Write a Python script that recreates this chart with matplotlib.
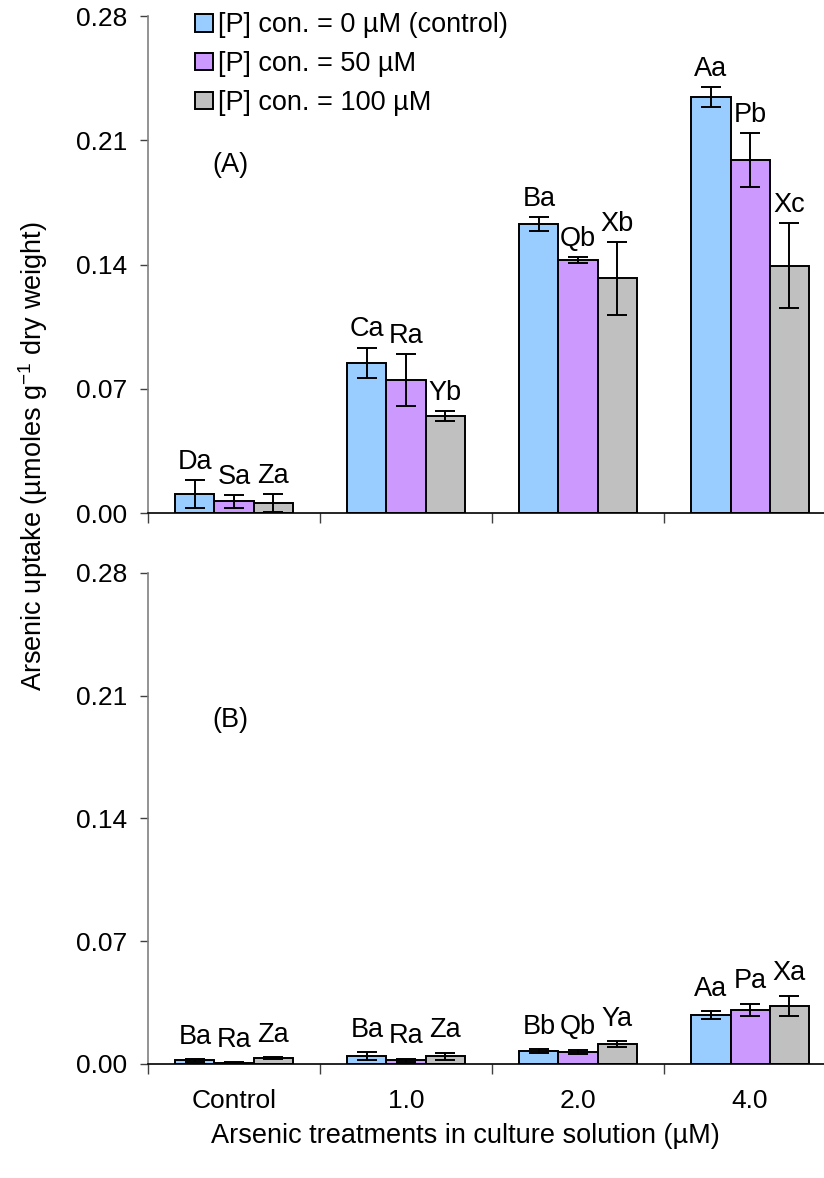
import matplotlib.pyplot as plt
import numpy as np

plt.rcParams['font.family'] = ['Liberation Sans', 'DejaVu Sans']
plt.rcParams['mathtext.fontset'] = 'custom'
plt.rcParams['mathtext.rm'] = 'Liberation Sans'
plt.rcParams['font.size'] = 19.5

categories = ['Control', '1.0', '2.0', '4.0']
series = ['[P] con. = 0 µM (control)', '[P] con. = 50 µM', '[P] con. = 100 µM']
colors = ['#99CCFF', '#CC99FF', '#C0C0C0']

# panel A (rows = P level, columns = arsenic treatment)
a_vals = [[0.0107, 0.0845, 0.1628, 0.2345],
          [0.0066, 0.0749, 0.1425, 0.1989],
          [0.0058, 0.0546, 0.1322, 0.1393]]
a_errs = [[0.0080, 0.0087, 0.0037, 0.0057],
          [0.0036, 0.0145, 0.0015, 0.0150],
          [0.0050, 0.0026, 0.0205, 0.0240]]
a_labels = [['Da', 'Ca', 'Ba', 'Aa'],
            ['Sa', 'Ra', 'Qb', 'Pb'],
            ['Za', 'Yb', 'Xb', 'Xc']]

# panel B
b_vals = [[0.0021, 0.0044, 0.0072, 0.0279],
          [0.0008, 0.0021, 0.0070, 0.0310],
          [0.0033, 0.0044, 0.0114, 0.0331]]
b_errs = [[0.0008, 0.0022, 0.0012, 0.0022],
          [0.0004, 0.0009, 0.0012, 0.0034],
          [0.0006, 0.0021, 0.0018, 0.0059]]
b_labels = [['Ba', 'Ba', 'Bb', 'Aa'],
            ['Ra', 'Ra', 'Qb', 'Pa'],
            ['Za', 'Za', 'Ya', 'Xa']]

yticks = [0.0, 0.07, 0.14, 0.21, 0.28]

fig = plt.figure(figsize=(8.24, 11.78), dpi=100)
ax_a = fig.add_axes([0.1796, 0.5645, 0.835, 0.4219])
ax_b = fig.add_axes([0.1796, 0.0968, 0.835, 0.4168])

x = np.arange(len(categories))
w = 0.227


def draw_panel(ax, vals, errs, labels, tag, label_pad):
    for i in range(3):
        pos = x + (i - 1) * w
        ax.bar(pos, vals[i], w, color=colors[i], edgecolor='black',
               linewidth=1.4, label=series[i], zorder=2)
        ax.errorbar(pos, vals[i], yerr=errs[i], fmt='none', ecolor='black',
                    elinewidth=1.4, capsize=7.5, capthick=1.4, zorder=3)
        for p, v, e, t in zip(pos, vals[i], errs[i], labels[i]):
            ax.annotate(t, (p, v + e), xytext=(0, label_pad),
                        textcoords='offset points', ha='center',
                        va='baseline', fontsize=19.5)
    ax.set_xlim(-0.5, 3.5)
    ax.set_ylim(0, 0.28)
    ax.set_yticks(yticks)
    ax.set_yticklabels(['%.2f' % t for t in yticks])
    ax.spines['top'].set_visible(False)
    ax.spines['right'].set_visible(False)
    ax.spines['left'].set_color('#808080')
    ax.spines['left'].set_linewidth(1.2)
    ax.spines['bottom'].set_linewidth(1.2)
    ax.tick_params(axis='y', direction='out', length=6, width=1.0,
                   color='#404040', pad=9, labelsize=19)
    ax.set_xticks(x)
    ax.set_xticks(np.arange(-0.5, 3.6, 1.0), minor=True)
    ax.tick_params(axis='x', which='major', length=0, pad=18, labelsize=19)
    ax.tick_params(axis='x', which='minor', length=7.5, width=1.0,
                   color='#404040')
    ax.text(0.12, 0.70, tag, transform=ax.transAxes, ha='center',
            va='center', fontsize=19.5)


draw_panel(ax_a, a_vals, a_errs, a_labels, '(A)', 8)
draw_panel(ax_b, b_vals, b_errs, b_labels, '(B)', 11)

ax_a.set_xticklabels([])
ax_b.set_xticklabels(categories)

ax_a.legend(loc='upper left', bbox_to_anchor=(0.052, 1.029), frameon=False,
            handlelength=0.68, handleheight=0.62, handletextpad=0.2,
            labelspacing=0.47, borderaxespad=0, fontsize=19.5)

fig.text(0.04, 1 - 456 / 1178,
         'Arsenic uptake (µmoles g$^{\\mathrm{-1}}$ dry weight)',
         rotation=90, ha='center', va='center', fontsize=19.5)
fig.text(465 / 824, 1 - 1136 / 1178,
         'Arsenic treatments in culture solution (µM)',
         ha='center', va='center', fontsize=19.5)

fig.savefig('out.png', dpi=100)
